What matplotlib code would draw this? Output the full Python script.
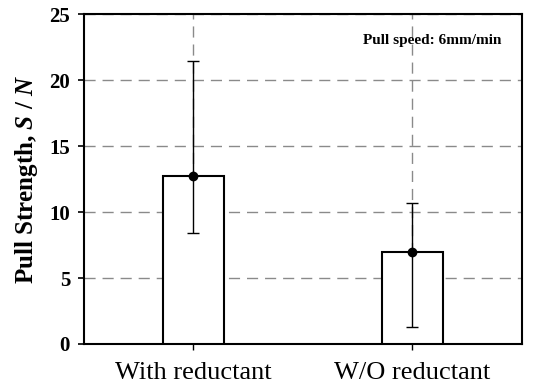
import numpy as np
import matplotlib
matplotlib.use("Agg")
import matplotlib.pyplot as plt

categories = ["With reductant", "W/O reductant"]
means      = [12.75, 6.94]
err_low    = [8.38, 1.31]
err_high   = [21.44, 10.68]

plt.rcParams['font.family'] = 'Liberation Serif'
plt.rcParams['mathtext.fontset'] = 'custom'
plt.rcParams['mathtext.rm'] = 'Liberation Serif:weight=bold'
plt.rcParams['mathtext.it'] = 'Liberation Serif:style=italic:weight=bold'
plt.rcParams['mathtext.default'] = 'it'

means = np.array(means)
yerr = np.array([means - np.array(err_low), np.array(err_high) - means])
x = np.arange(len(categories))

fig = plt.figure(figsize=(5.46, 3.85), dpi=100)
ax = fig.add_axes([0.1538, 0.1065, 0.8022, 0.8571])

ax.bar(x, means, width=0.28, color='white', edgecolor='black', linewidth=1.5, zorder=3)
ax.errorbar(x, means, yerr=yerr, fmt='o', color='black', ms=6,
            elinewidth=1.0, capsize=4.0, capthick=1.0, zorder=4)

ax.set_xlim(-0.5, 1.5)
ax.set_ylim(0, 25)
ax.set_yticks([0, 5, 10, 15, 20, 25])
ax.set_xticks(x)
ax.set_xticklabels(categories, fontsize=19)
for lab in ax.get_yticklabels():
    lab.set_fontsize(15)
    lab.set_fontweight('bold')

ax.grid(True, color='#8a8a8a', linestyle=(0, (8, 5)), linewidth=1.0, zorder=0)
ax.set_axisbelow(True)
for s in ax.spines.values():
    s.set_linewidth(1.5)
ax.tick_params(axis='y', direction='out', length=4, width=1.2, pad=6)
ax.tick_params(axis='x', direction='out', length=4, width=1.0, pad=9)

ax.set_ylabel(r"Pull Strength, $\mathit{S}$ / $\mathit{N}$", fontsize=18, fontweight='bold')
ax.yaxis.set_label_coords(-0.100, 0.5)
ax.text(0.952, 0.921, "Pull speed: 6mm/min", transform=ax.transAxes,
        ha='right', va='center', fontsize=11, fontweight='bold')

fig.savefig("out.png", dpi=100)
